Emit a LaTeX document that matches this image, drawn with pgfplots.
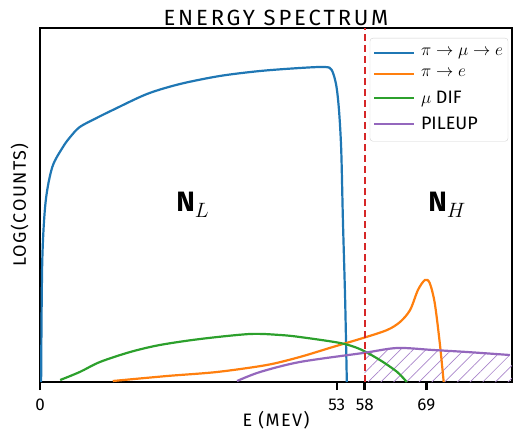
\documentclass[border=0pt]{standalone}
\usepackage{fontspec}
\setmainfont{Fira Sans}
\usepackage{pgfplots}
\pgfplotsset{compat=1.18}
\usetikzlibrary{patterns.meta}

\definecolor{tblue}{RGB}{31,119,180}
\definecolor{torange}{RGB}{255,127,14}
\definecolor{tgreen}{RGB}{44,160,44}
\definecolor{tpurple}{RGB}{148,103,189}
\definecolor{tred}{RGB}{214,39,40}

\begin{document}
\begin{tikzpicture}[x=1pt,y=1pt]
\useasboundingbox (0,0) rectangle (515,432);
\begin{axis}[
    at={(40pt,50pt)}, anchor=south west,
    scale only axis, width=472pt, height=354pt,
    xmin=0, xmax=84.3, ymin=0, ymax=354,
    axis line style={line width=1.8pt},
    xtick={0,53,58,69}, xtick pos=bottom, tick align=outside,
    major tick length=8pt, tick style={line width=2.5pt, black},
    ytick=\empty,
    /pgf/number format/assume math mode=true,
    xticklabel style={font=\fontsize{17}{19}\selectfont, yshift=-5pt},
    xlabel={E (MEV)}, ylabel={LOG(COUNTS)},
    label style={font=\fontsize{18}{20}\selectfont\addfontfeature{LetterSpace=8}},
    xlabel style={yshift=6pt},
    ylabel style={yshift=0pt},
    title={ENERGY SPECTRUM},
    title style={font=\fontsize{22}{24}\selectfont\addfontfeature{LetterSpace=13}, yshift=-7pt},
    legend style={at={(0.992,0.972)}, anchor=north east, draw=gray!35,
        rounded corners=3pt, fill=white, fill opacity=0.8, text opacity=1,
        nodes={font=\fontsize{18}{20}\selectfont, inner ysep=3pt},
        row sep=6.5pt, inner xsep=3pt, inner ysep=7pt},
    legend cell align=left,
    legend image code/.code={\draw[#1, line width=2pt] (0pt,0pt) -- (40pt,0pt);},
    every axis plot/.append style={line width=2.2pt},
]
% hatched pileup region beyond the cut
\addplot[draw=none, forget plot, pattern={Lines[angle=45,distance=9pt,line width=0.7pt]},
    pattern color=tpurple!80] coordinates {
    (58,0) (58,29) (60.5,31) (63.8,34) (67,33) (70.2,32) (76.25,30) (84.3,27) (84.3,0)
} -- cycle;

\addplot[tblue, smooth, tension=0.5] coordinates {
    (0.2,0) (0.4,120) (1.0,180) (2.2,215) (4.1,235) (5.4,245) (7.1,255) (10.1,264)
    (13.0,272) (19.1,288) (25,298) (32.1,306) (39.3,311) (46.4,314) (50.9,315) (52.1,312)
    (52.9,297) (53.4,272) (53.8,232) (54.1,162) (54.5,82) (54.8,0)
};
\addlegendentry{\hspace{4pt}$\pi\rightarrow\mu\rightarrow e$}
\addplot[torange, smooth, tension=0.5] coordinates {
    (13.0,1) (22.7,6) (31.6,10) (40.5,17) (46.4,25) (52.3,35) (57.7,44)
    (62,52) (64.3,60) (66.1,72) (67.5,92) (68.75,102) (69.6,99) (70.5,79)
    (71.4,39) (72.1,0)
};
\addlegendentry{\hspace{4pt}$\pi\rightarrow e$}
\addplot[tgreen, smooth, tension=0.5] coordinates {
    (3.6,2) (7.1,10) (10.7,20) (16.1,30) (21.4,37) (28.6,43) (37.5,48)
    (42.9,47) (46.4,45) (53.6,39) (57.1,33) (60.7,22) (63.8,10) (65.5,0)
};
\addlegendentry{\hspace{4pt}$\mu$ DIF}
\addplot[tpurple, smooth, tension=0.5] coordinates {
    (35.2,1) (39.3,10) (46.4,20) (57.7,29) (63.8,34) (70.2,32) (76.25,30) (83.9,27)
};
\addlegendentry{\hspace{4pt}PILEUP}

\addplot[tred, dashed, dash pattern=on 7pt off 4pt, forget plot] coordinates {(58,0) (58,354)};

\node[font=\fontsize{28}{30}\selectfont] at (axis cs:27.3,177) {$\mathbf{N}_{L}$};
\node[font=\fontsize{28}{30}\selectfont] at (axis cs:72.7,177) {$\mathbf{N}_{H}$};
\end{axis}
\end{tikzpicture}
\end{document}
